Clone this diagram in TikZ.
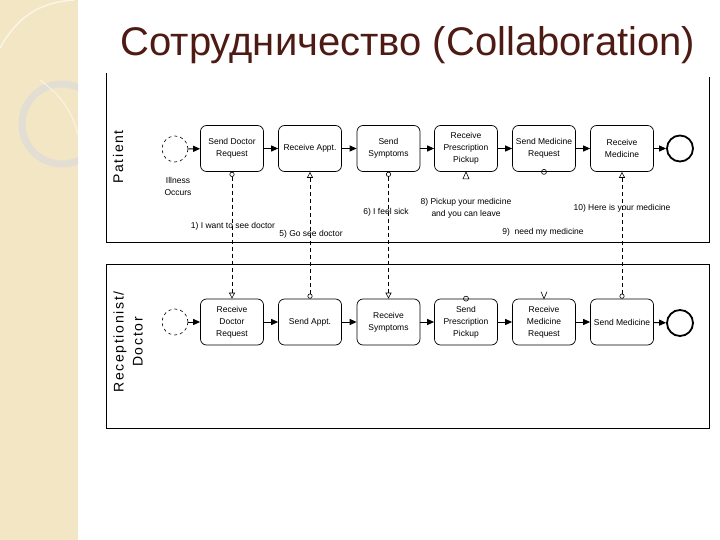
\documentclass[tikz,border=0pt]{standalone}
\usepackage{fontspec}
\setmainfont{Liberation Sans}
\usetikzlibrary{arrows.meta}
\definecolor{stripe}{RGB}{243,230,196}
\definecolor{ringc}{RGB}{226,222,212}
\definecolor{titlec}{RGB}{78,26,20}
\begin{document}
\begin{tikzpicture}[x=1pt,y=-1pt,
  task/.style={draw,line width=0.7pt,rounded corners=6pt,minimum width=63pt,minimum height=46pt,align=center,font=\fontsize{8.5}{12}\selectfont,inner sep=1pt},
  startev/.style={draw,dashed,line width=0.6pt,circle,minimum size=26pt,inner sep=0pt},
  endev/.style={draw,circle,line width=1.8pt,minimum size=26pt,inner sep=0pt},
  seq/.style={-{Triangle[length=7pt,width=6pt]},line width=1pt},
  msg/.style={dash pattern=on 4pt off 3pt,{Circle[open,length=5pt]}-{Triangle[open,length=6pt,width=6pt]},line width=0.6pt},
  msgmark/.style={line width=0.6pt},
  lbl/.style={font=\fontsize{8.5}{12}\selectfont,inner sep=0pt,align=center},
  lane/.style={line width=0.9pt},
  lanelbl/.style={rotate=90,align=center,font=\fontsize{14}{19}\selectfont\addfontfeature{LetterSpace=12}}
]
\useasboundingbox (0,0) rectangle (720,540);
\fill[white] (0,0) rectangle (720,540);
\fill[stripe] (0,0) rectangle (78,540);
\begin{scope}
  \clip (0,0) rectangle (78,540);
  \draw[ringc,line width=7pt] (62,124) circle (40);
  \draw[white,opacity=0.6,line width=1.5pt] (0,48) .. controls (20,12) and (45,2) .. (74,0);
  \draw[white,opacity=0.5,line width=1.2pt] (40,80) .. controls (60,95) and (72,110) .. (78,135);
\end{scope}

\node[font=\fontsize{40}{44}\selectfont,text=titlec] (title) at (408,45) {Сотрудничество (Collaboration)};

% lanes
\draw[lane] (106,73) -- (106,242) -- (709,242) -- (709,77);
\draw[lane] (106,264) rectangle (709,428);
\node[lanelbl] (lp) at (118,157) {Patient};
\node[lanelbl] (lr) at (128,342) {Receptionist/\\Doctor};

% patient lane
\node[startev] (ps) at (175,149) {};
\node[lbl] (ill) at (178,186) {Illness\\Occurs};
\node[task] (sdr) at (232,148.5) {Send Doctor\\Request};
\node[task] (rap) at (310,148.5) {Receive Appt.};
\node[task] (ssy) at (388.5,148.5) {Send\\Symptoms};
\node[task] (rpp) at (466,148.5) {Receive\\Prescription\\Pickup};
\node[task] (smr) at (544,148.5) {Send Medicine\\Request};
\node[task] (rmd) at (622,148.5) {Receive\\Medicine};
\node[endev] (pe) at (680,148.5) {};
\draw[seq] (ps) -- (sdr);
\draw[seq] (sdr) -- (rap);
\draw[seq] (rap) -- (ssy);
\draw[seq] (ssy) -- (rpp);
\draw[seq] (rpp) -- (smr);
\draw[seq] (smr) -- (rmd);
\draw[seq] (rmd) -- (pe);

% receptionist lane
\node[startev] (rs) at (175,322) {};
\node[task] (rdr) at (232,322) {Receive\\Doctor\\Request};
\node[task] (sap) at (310,322) {Send Appt.};
\node[task] (rsy) at (388.5,322) {Receive\\Symptoms};
\node[task] (spp) at (466,322) {Send\\Prescription\\Pickup};
\node[task] (rmr) at (544,322) {Receive\\Medicine\\Request};
\node[task] (smd) at (622,322) {Send Medicine};
\node[endev] (re) at (680,323) {};
\draw[seq] (rs) -- (rdr);
\draw[seq] (rdr) -- (sap);
\draw[seq] (sap) -- (rsy);
\draw[seq] (rsy) -- (spp);
\draw[seq] (spp) -- (rmr);
\draw[seq] (rmr) -- (smd);
\draw[seq] (smd) -- (re);

% message flows
\draw[msg] (sdr.south) -- (rdr.north);
\draw[msg] (sap.north) -- (rap.south);
\draw[msg] (ssy.south) -- (rsy.north);
\draw[msg] (smd.north) -- (rmd.south);
% markers without line
\draw[msgmark] ([shift={(-3,7)}]rpp.south) -- (rpp.south) -- ([shift={(3,7)}]rpp.south) -- cycle;
\node[draw,circle,msgmark,minimum size=5pt,inner sep=0pt] (c8) at (spp.north) {};
\node[draw,circle,msgmark,minimum size=5pt,inner sep=0pt] (c9) at (smr.south) {};
\draw[msgmark] ([shift={(-3,-7)}]rmr.north) -- (rmr.north) -- ([shift={(3,-7)}]rmr.north);

% message labels
\node[lbl] (l1) at (233,226) {1) I want to see doctor};
\node[lbl] (l5) at (311,234) {5) Go see doctor};
\node[lbl] (l6) at (386,212) {6) I feel sick};
\node[lbl] (l8) at (466,208) {8) Pickup your medicine\\and you can leave};
\node[lbl] (l9) at (543,232) {9)\ \ need my medicine};
\node[lbl] (l10) at (622,208) {10) Here is your medicine};
\end{tikzpicture}
\end{document}
